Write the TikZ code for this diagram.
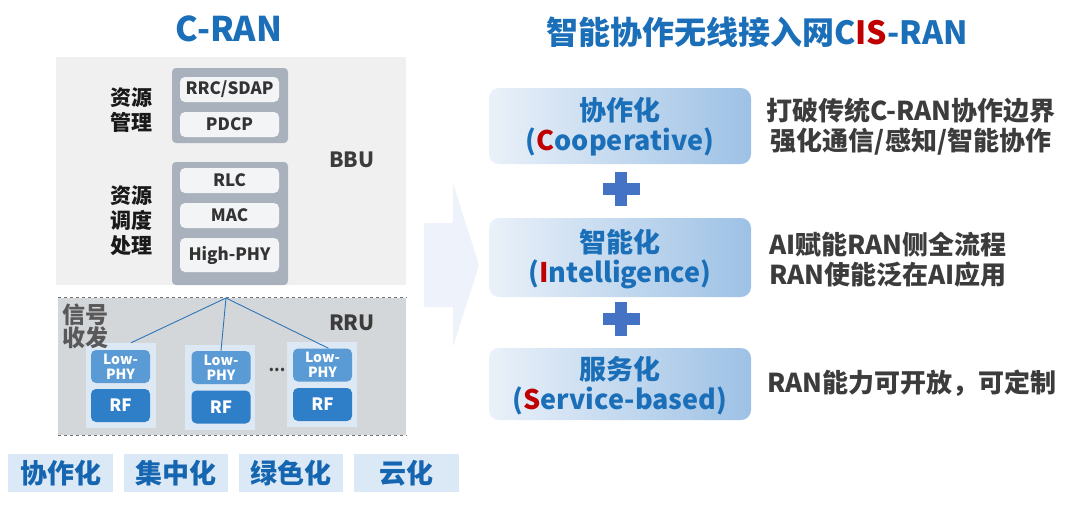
\documentclass[tikz,border=0pt]{standalone}
\usepackage{fontspec}
\setmainfont{Noto Sans CJK SC}
\definecolor{tblue}{HTML}{1B6FB8}
\definecolor{cred}{HTML}{C00000}
\definecolor{bbubg}{HTML}{F0F0F0}
\definecolor{grpbg}{HTML}{A9B2BC}
\definecolor{itembg}{HTML}{F3F4F6}
\definecolor{rrubg}{HTML}{D4D7DA}
\definecolor{colbg}{HTML}{DDE8F5}
\definecolor{lpbg}{HTML}{5B9BD5}
\definecolor{rfbg}{HTML}{2F7FC8}
\definecolor{tagbg}{HTML}{DBE8F5}
\definecolor{tagtx}{HTML}{1565B0}
\definecolor{arrbg}{HTML}{EEF2FA}
\definecolor{plusc}{HTML}{4472C4}
\definecolor{linkc}{HTML}{2E75B6}
\definecolor{darktx}{HTML}{3C3C3C}
\definecolor{boxl}{HTML}{EAF1F9}
\definecolor{boxr}{HTML}{9DC1E5}
\tikzset{
  fs/.style={font=\bfseries\fontsize{#1}{#1}\selectfont},
  grp/.style={fill=grpbg, rounded corners=4pt, inner sep=0pt},
  item/.style={fill=itembg, rounded corners=5pt, inner sep=0pt, minimum width=99pt, text=black!80, fs=17},
  lbl/.style={align=center, text=black!90, font=\bfseries\fontsize{21}{25}\selectfont},
  colbox/.style={fill=colbg, inner sep=0pt, minimum width=70pt, minimum height=85pt},
  lpbox/.style={fill=lpbg, rounded corners=5pt, inner sep=0pt, minimum width=59pt, minimum height=33pt, text=white, align=center, font=\bfseries\fontsize{14}{15}\selectfont},
  rfbox/.style={fill=rfbg, rounded corners=5pt, inner sep=0pt, minimum width=59pt, minimum height=33pt, text=white, fs=17},
  tag/.style={fill=tagbg, inner sep=0pt, minimum height=38pt, text=tagtx, fs=27},
  bigbox/.style={left color=boxl, right color=boxr, rounded corners=10pt, inner sep=0pt, minimum width=262pt},
  boxtext/.style={align=center, text=tblue, font=\bfseries\fontsize{27}{30}\selectfont},
  rtext/.style={align=center, text=darktx, font=\bfseries\fontsize{26}{30}\selectfont},
  link/.style={draw=linkc, line width=0.9pt},
}
\begin{document}
\begin{tikzpicture}[x=1pt,y=-1pt]
\useasboundingbox (0,0) rectangle (1080,507);
% titles
\node[text=tblue, fs=34] (t1) at (229,29) {C-RAN};
\node[text=tblue, fs=32] (t2) at (757,32) {智能协作无线接入网C\textcolor{cred}{IS}-RAN};
% BBU
\node[fill=bbubg, inner sep=0pt, minimum width=350pt, minimum height=228pt] (bbu) at (231,171) {};
\node[grp, minimum width=116pt, minimum height=75pt] (g1) at (230,105.5) {};
\node[item, minimum height=25pt] (rrc) at (229.5,89.5) {RRC/SDAP};
\node[item, minimum height=25pt] (pdcp) at (229.5,124.5) {PDCP};
\node[grp, minimum width=116pt, minimum height=123pt] (g2) at (230,223.5) {};
\node[item, minimum height=25pt] (rlc) at (229.5,180.5) {RLC};
\node[item, minimum height=25pt] (mac) at (229.5,215.5) {MAC};
\node[item, minimum height=34pt] (hphy) at (229.5,255) {High-PHY};
\node[lbl] (l1) at (131,110) {资源\\管理};
\node[lbl] (l2) at (131,221) {资源\\调度\\处理};
\node[text=darktx, fs=21] (bbul) at (352,160) {BBU};
% RRU
\node[fill=rrubg, inner sep=0pt, minimum width=348pt, minimum height=137pt] (rru) at (232,366.5) {};
\draw[dashed, draw=black!55, line width=0.8pt] (rru.north west) -- (rru.north east);
\draw[dashed, draw=black!55, line width=0.8pt] (rru.south west) -- (rru.south east);
\node[text=darktx, fs=21] (rrul) at (352,323) {RRU};
\node[colbox] (c1) at (121,385.5) {};
\node[colbox] (c2) at (220,387) {};
\node[colbox] (c3) at (322,384.5) {};
\node[align=center, text=black!65, font=\bfseries\fontsize{23}{23}\selectfont] (l3) at (85,326) {信号\\收发};
\node[lpbox] (lp1) at (120.5,366.5) {Low-\\PHY};
\node[rfbox] (rf1) at (120.5,405.5) {RF};
\node[lpbox] (lp2) at (221,367.5) {Low-\\PHY};
\node[rfbox] (rf2) at (221,407) {RF};
\node[lpbox] (lp3) at (322.5,365) {Low-\\PHY};
\node[rfbox] (rf3) at (322.5,404.5) {RF};
\node[text=darktx, fs=16] (dots) at (277,370) {...};
\coordinate (hub) at (226,298);
\draw[link] (hub) -- ([xshift=10pt]c1.north);
\draw[link] (hub) -- (lp2.north);
\draw[link] (hub) -- ([xshift=6pt]lp3.north);
% bottom tags
\node[tag, minimum width=105pt] (tg1) at (60.5,473) {协作化};
\node[tag, minimum width=104pt] (tg2) at (176,473) {集中化};
\node[tag, minimum width=104pt] (tg3) at (291,473) {绿色化};
\node[tag, minimum width=105pt] (tg4) at (406.5,473) {云化};
% big arrow
\fill[arrbg, rounded corners=2pt] (424,223) -- (453,223) -- (453,183) -- (479,265) -- (453,347) -- (453,307) -- (424,307) -- cycle;
% right boxes
\node[bigbox, minimum height=76pt] (b1) at (620,126) {};
\node[boxtext] (bt1) at (620,127) {协作化\\(\textcolor{cred}{C}ooperative)};
\node[bigbox, minimum height=79pt] (b2) at (620,257.5) {};
\node[boxtext] (bt2) at (620,259) {智能化\\(\textcolor{cred}{I}ntelligence)};
\node[bigbox, minimum height=72pt] (b3) at (620,384) {};
\node[boxtext] (bt3) at (620,386) {服务化\\(\textcolor{cred}{S}ervice-based)};
% plus signs
\fill[plusc] (615,172) rectangle (627,206);
\fill[plusc] (603,183) rectangle (640,195);
\fill[plusc] (615,302) rectangle (627,336);
\fill[plusc] (603,313) rectangle (640,325);
% right texts
\node[rtext] (r1) at (911,127) {打破传统C-RAN协作边界\\强化通信/感知/智能协作};
\node[rtext] (r2) at (888,260) {AI赋能RAN侧全流程\\RAN使能泛在AI应用};
\node[rtext] (r3) at (912,383) {RAN能力可开放，可定制};
\end{tikzpicture}
\end{document}
